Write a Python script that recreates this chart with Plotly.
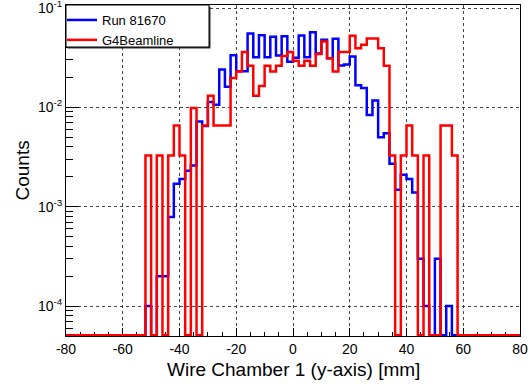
import math
import plotly.graph_objects as go

# Histogram binning: 80 bins of 2 mm from -80 to 80 mm
x_lo, x_hi, bin_w = -80, 80, 2
bin_edges = list(range(x_lo, x_hi + bin_w, bin_w))

# Normalised counts per bin (left edge -80, -78, ..., 78)
run_81670 = [
    0, 0, 0, 0, 0, 0, 0, 0, 0, 0, 0, 0, 0, 0,          # -80 .. -54
    1.0e-4, 0, 2.0e-4, 2.0e-4, 7.9e-4, 1.7e-3, 1.9e-3,  # -52 .. -40
    2.3e-3, 2.6e-3, 7.2e-3, 6.5e-3, 1.13e-2, 1.06e-2,   # -38 .. -28
    2.40e-2, 1.61e-2, 3.34e-2, 2.31e-2, 2.31e-2,        # -26 .. -18
    5.53e-2, 3.19e-2, 5.32e-2, 3.20e-2, 5.13e-2,        # -16 .. -8
    3.32e-2, 5.20e-2, 2.87e-2,                          # -6 .. -2
    3.15e-2, 5.28e-2, 3.20e-2, 5.70e-2, 3.48e-2,        # 0 .. 8
    4.79e-2, 3.12e-2, 4.89e-2, 2.64e-2, 2.70e-2,        # 10 .. 18
    3.25e-2, 1.67e-2, 1.57e-2, 8.4e-3, 1.17e-2,         # 20 .. 28
    5.0e-3, 5.5e-3, 2.7e-3, 1.48e-3, 2.1e-3,            # 30 .. 38
    1.9e-3, 1.39e-3, 3.0e-4, 1.0e-4, 0, 3.0e-4,         # 40 .. 50
    0, 1.0e-4, 0, 0, 0, 0, 0, 0, 0, 0, 0, 0, 0,         # 52 .. 76
    0,                                                  # 78
]

g4beamline = [
    0, 0, 0, 0, 0, 0, 0, 0, 0, 0, 0, 0, 0, 0,           # -80 .. -54
    0.00328, 0, 0.00328, 0, 0.00328, 0.00656, 0.00328,  # -52 .. -40
    0, 0.00984, 0, 0.00656, 0.0131, 0.00656,            # -38 .. -28
    0.00656, 0.00656, 0.0197, 0.0230, 0.0361,           # -26 .. -18
    0.0262, 0.0131, 0.0164, 0.0262, 0.0230,             # -16 .. -8
    0.0262, 0.0328, 0.0361,                             # -6 .. -2
    0.0295, 0.0262, 0.0295, 0.0262, 0.0345,             # 0 .. 8
    0.0459, 0.0312, 0.0230, 0.0361, 0.0361,             # 10 .. 18
    0.0525, 0.0394, 0.0426, 0.0492, 0.0492,             # 20 .. 28
    0.0394, 0.0262, 0.00328, 0, 0.00328,                # 30 .. 38
    0.00656, 0.00328, 0, 0.00328, 0, 0,                 # 40 .. 50
    0.00656, 0.00656, 0.00328, 0, 0, 0, 0, 0, 0, 0, 0,  # 52 .. 72
    0, 0, 0,                                            # 74 .. 78
]

series = [
    ("Run 81670", run_81670, "#0000ff"),
    ("G4Beamline", g4beamline, "#ff0000"),
]

# Log-scale range; empty bins are drawn along the lower edge of the frame
y_min, y_max = 5e-5, 0.1072
empty_bin_level = y_min * 1.015
major_y = [1e-4, 1e-3, 1e-2, 1e-1]
major_y_text = ["10<sup>-4</sup>", "10<sup>-3</sup>", "10<sup>-2</sup>", "10<sup>-1</sup>"]
minor_y = [m * 10.0 ** e for e in range(-5, 0) for m in range(2, 10)]

major_x = list(range(-80, 81, 20))
major_x_text = [str(v) for v in major_x]

FONT = "Liberation Sans, Arial, Helvetica, sans-serif"

fig = go.Figure()
for name, vals, color in series:
    ys = [v if v > 0 else empty_bin_level for v in vals]
    fig.add_trace(go.Scatter(
        x=bin_edges,
        y=ys + [ys[-1]],
        mode="lines",
        line=dict(color=color, width=2.5, shape="hv"),
        name=name,
    ))

W, H = 530, 385
ml, mr, mt, mb = 66, 10, 5, 49
pw, ph = W - ml - mr, H - mt - mb

def px_x(p):
    return (p - ml) / pw

def px_y(p):
    return 1 - (p - mt) / ph

axis_common = dict(
    showline=True, linecolor="black", linewidth=1, mirror=True,
    ticks="inside", tickcolor="black", tickwidth=1,
    showgrid=True, gridcolor="#444444", griddash="dot", gridwidth=1,
    zeroline=False, layer="below traces", automargin=False,
    ticklabeloverflow="allow",
    tickfont=dict(family=FONT, size=14, color="black"),
)

fig.update_xaxes(
    range=[x_lo, x_hi], tickmode="array", tickvals=major_x, ticktext=major_x_text,
    ticklen=8,
    minor=dict(tickmode="linear", dtick=5, tick0=0, ticks="inside", ticklen=4,
               tickcolor="black", showgrid=False),
    **axis_common,
)
fig.update_yaxes(
    type="log", range=[math.log10(y_min), math.log10(y_max)],
    tickmode="array", tickvals=major_y, ticktext=major_y_text, ticklen=13,
    minor=dict(tickmode="array", tickvals=minor_y, ticks="inside", ticklen=7,
               tickcolor="black", showgrid=False),
    **axis_common,
)

# Legend frame with a thin drop shadow
lg_x0, lg_x1, lg_y0, lg_y1 = 66, 209, 5, 47
fig.add_shape(type="rect", xref="paper", yref="paper", layer="above",
              x0=px_x(lg_x0 + 1.5), x1=px_x(lg_x1 + 1.5),
              y0=px_y(lg_y1 + 1.5), y1=px_y(lg_y0 + 1.5),
              fillcolor="#333333", line=dict(width=0))
fig.add_shape(type="rect", xref="paper", yref="paper", layer="above",
              x0=px_x(lg_x0), x1=px_x(lg_x1), y0=px_y(lg_y1), y1=px_y(lg_y0),
              fillcolor="white", line=dict(color="black", width=1))

fig.add_annotation(text="Wire Chamber 1 (y-axis) [mm]", xref="paper", yref="paper",
                   x=0.5, y=0, yshift=-(369 - (H - mb)), showarrow=False,
                   xanchor="center", yanchor="middle",
                   font=dict(family=FONT, size=19, color="black"))
fig.add_annotation(text="Counts", xref="paper", yref="paper",
                   x=0, y=0.5, xshift=-(ml - 22), showarrow=False, textangle=-90,
                   xanchor="center", yanchor="middle",
                   font=dict(family=FONT, size=19, color="black"))

fig.update_layout(
    width=W, height=H,
    margin=dict(l=ml, r=mr, t=mt, b=mb, autoexpand=False),
    paper_bgcolor="white", plot_bgcolor="white",
    font=dict(family=FONT, color="black"),
    showlegend=True,
    legend=dict(x=px_x(62), y=1, xanchor="left", yanchor="top",
                bgcolor="rgba(0,0,0,0)", borderwidth=0,
                font=dict(family=FONT, size=13, color="black"),
                tracegroupgap=0),
)

fig.write_html("out.html")
